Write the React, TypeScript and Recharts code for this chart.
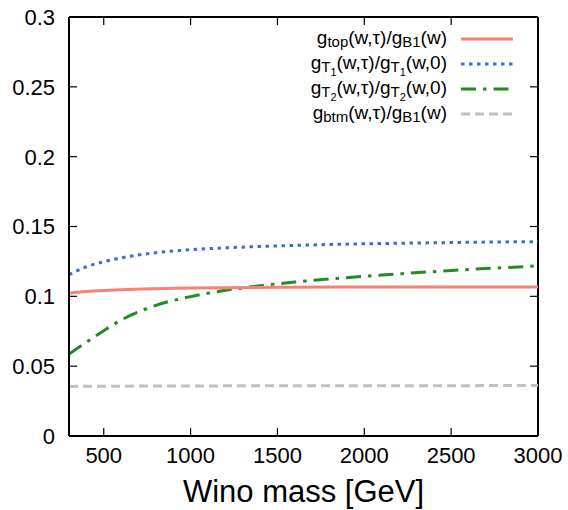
import React from 'react';
import { ComposedChart, Line, Scatter, XAxis, YAxis, ReferenceLine } from 'recharts';

const masses = [300, 400, 500, 600, 800, 1000, 1200, 1400, 1600, 1800, 2000, 2250, 2500, 2750, 3000];
const gTop = [0.1022, 0.1034, 0.1042, 0.1048, 0.1055, 0.1059, 0.1062, 0.1064, 0.1065, 0.1066, 0.1066, 0.1067, 0.1067, 0.1067, 0.1067];
const gT1 = [0.1155, 0.1212, 0.1248, 0.1275, 0.1312, 0.1334, 0.1347, 0.1357, 0.1365, 0.1371, 0.1376, 0.1381, 0.1385, 0.1389, 0.1392];
const gT2 = [0.0587, 0.0672, 0.0754, 0.083, 0.0935, 0.0998, 0.1043, 0.1076, 0.1102, 0.1124, 0.1143, 0.1165, 0.1185, 0.1202, 0.1218];
const gBtm = [0.0355, 0.0356, 0.0357, 0.0357, 0.0358, 0.0358, 0.0359, 0.0359, 0.0359, 0.036, 0.036, 0.036, 0.036, 0.0361, 0.0361];

const xDomain = [300, 3000];
const yDomain = [0, 0.3];
const xTicks = [500, 1000, 1500, 2000, 2500, 3000];
const yTicks = [0, 0.05, 0.1, 0.15, 0.2, 0.25, 0.3];
const xTitle = 'Wino mass [GeV]';

const data = masses.map((m, i) => ({ m, top: gTop[i], t1: gT1[i], t2: gT2[i], btm: gBtm[i] }));

// inward tick marks on all four sides of the frame
const tickMarks = [
  ...xTicks.map((t) => ({ m: t, v: yDomain[0], side: 'b' })),
  ...xTicks.map((t) => ({ m: t, v: yDomain[1], side: 't' })),
  ...yTicks.map((t) => ({ m: xDomain[0], v: t, side: 'l' })),
  ...yTicks.map((t) => ({ m: xDomain[1], v: t, side: 'r' })),
];

const FONT = '"Liberation Sans", Arial, Helvetica, sans-serif';

const series = [
  { key: 'top', color: '#fa8072', dash: undefined as string | undefined, parts: [['g', 0], ['top', 1], ['(w,τ)/g', 0], ['B1', 1], ['(w)', 0]] },
  { key: 't1', color: '#4169e1', dash: '3.5 4.5', parts: [['g', 0], ['T', 1], ['1', 2], ['(w,τ)/g', 0], ['T', 1], ['1', 2], ['(w,0)', 0]] },
  { key: 't2', color: '#228b22', dash: '15 7 3.5 7', parts: [['g', 0], ['T', 1], ['2', 2], ['(w,τ)/g', 0], ['T', 1], ['2', 2], ['(w,0)', 0]] },
  { key: 'btm', color: '#c0c0c0', dash: '9 5', parts: [['g', 0], ['btm', 1], ['(w,τ)/g', 0], ['B1', 1], ['(w)', 0]] },
];

const levelSize = [19, 15, 11];
const levelOffset = [0, 3, 7];

const LegendBox = () => (
  <svg width={568} height={130} style={{ position: 'absolute', left: 0, top: 0, pointerEvents: 'none', display: 'block' }}>
    {series.map((s, r) => {
      const cy = 39 + r * 25;
      let prev = 0;
      return (
        <g key={s.key}>
          <text x={447} y={cy + 4.5} textAnchor="end" fontFamily={FONT} fill="#000">
            {s.parts.map(([t, lvl], j) => {
              const l = lvl as number;
              const dy = levelOffset[l] - levelOffset[prev];
              prev = l;
              return (
                <tspan key={j} dy={dy} fontSize={levelSize[l]}>
                  {t as string}
                </tspan>
              );
            })}
          </text>
          <line x1={461} x2={513} y1={cy} y2={cy} stroke={s.color} strokeWidth={3} strokeDasharray={s.dash} />
        </g>
      );
    })}
  </svg>
);

const TICK_LEN = 8;
const LEFT_MARGIN = 14;
const BOTTOM_MARGIN = 12;

const LeftTick = (props: any) => (
  <text x={Number(props.x)} y={Number(props.y)} dy="0.36em" textAnchor="end" fontSize={22} fontFamily={FONT} fill="#000">
    {String(props.payload.value)}
  </text>
);

const BottomTick = (props: any) => (
  <text x={Number(props.x)} y={Number(props.y) + 15} textAnchor="middle" fontSize={22} fontFamily={FONT} fill="#000">
    {String(props.payload.value)}
  </text>
);

const TickMarkShape = (p: any) => {
  const cx = Number(p.cx);
  const cy = Number(p.cy);
  const side = (p.payload && p.payload.side) || p.side;
  let d = '';
  if (side === 'b') d = `M${cx},${cy}v${-TICK_LEN}`;
  else if (side === 't') d = `M${cx},${cy}v${TICK_LEN}`;
  else if (side === 'l') d = `M${cx},${cy}h${TICK_LEN}`;
  else d = `M${cx},${cy}h${-TICK_LEN}`;
  return <path d={d} fill="none" stroke="#000" strokeWidth={1.2} />;
};

const axisLine = { stroke: '#000', strokeWidth: 2 };

export default function App() {
  return (
    <div style={{ position: 'absolute', left: 0, top: 0, width: 568, height: 510, background: '#fff' }}>
      <ComposedChart width={568} height={510} data={data} margin={{ top: 17, right: 30, bottom: 0, left: 0 }}>
        <XAxis
          xAxisId="b"
          dataKey="m"
          type="number"
          domain={xDomain}
          ticks={xTicks}
          height={74}
          tick={BottomTick}
          axisLine={axisLine}
          tickLine={false}
          tickSize={0}
          tickMargin={BOTTOM_MARGIN}
          label={{ value: xTitle, position: 'insideBottom', offset: 8, fontSize: 31, fontFamily: FONT, fill: '#000' }}
        />
        <YAxis
          yAxisId="l"
          type="number"
          domain={yDomain}
          ticks={yTicks}
          width={69}
          tick={LeftTick}
          axisLine={axisLine}
          tickLine={false}
          tickSize={0}
          tickMargin={LEFT_MARGIN}
        />
        <ReferenceLine xAxisId="b" yAxisId="l" x={xDomain[1]} stroke="#000" strokeWidth={2} />
        <ReferenceLine xAxisId="b" yAxisId="l" y={yDomain[1]} stroke="#000" strokeWidth={2} />
        <Scatter xAxisId="b" yAxisId="l" data={tickMarks} dataKey="v" shape={TickMarkShape} isAnimationActive={false} legendType="none" />
        <Line xAxisId="b" yAxisId="l" type="monotone" dataKey="btm" stroke="#c0c0c0" strokeWidth={3} strokeDasharray="9 5" dot={false} isAnimationActive={false} />
        <Line xAxisId="b" yAxisId="l" type="monotone" dataKey="t2" stroke="#228b22" strokeWidth={3} strokeDasharray="15 7 3.5 7" dot={false} isAnimationActive={false} />
        <Line xAxisId="b" yAxisId="l" type="monotone" dataKey="t1" stroke="#4169e1" strokeWidth={3} strokeDasharray="3.5 4.5" dot={false} isAnimationActive={false} />
        <Line xAxisId="b" yAxisId="l" type="monotone" dataKey="top" stroke="#fa8072" strokeWidth={3} dot={false} isAnimationActive={false} />
      </ComposedChart>
      <LegendBox />
    </div>
  );
}
